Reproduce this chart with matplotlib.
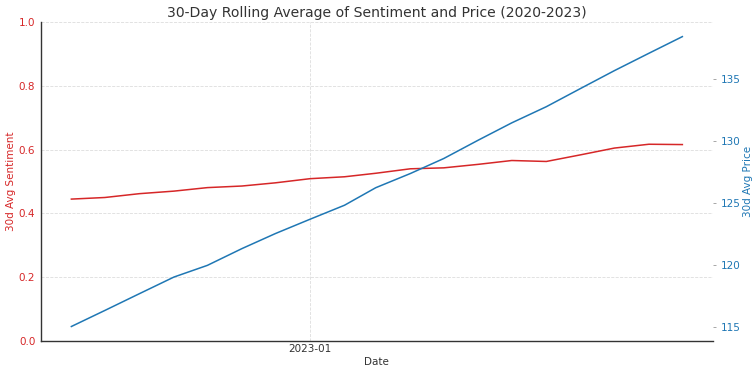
# 30-day rolling averages of sentiment and price, twin axes

import matplotlib
matplotlib.use('AGG')
import matplotlib.pyplot as plt
import matplotlib.dates as mdates
import numpy as np
import pandas as pd

#%% data
dates = pd.date_range('2022-06-01', periods=19, freq='MS')
sentiment = [0.445, 0.450, 0.462, 0.470, 0.481, 0.486, 0.496, 0.509, 0.515, 0.526,
             0.540, 0.543, 0.554, 0.566, 0.563, 0.584, 0.605, 0.617, 0.616]
price = [115.08, 116.37, 117.72, 119.06, 120.00, 121.35, 122.56, 123.71, 124.84, 126.25,
         127.39, 128.60, 130.08, 131.47, 132.77, 134.25, 135.67, 137.07, 138.41]

c_sent = '#d62728'
c_price = '#1f77b4'
grey = '#333333'

#%% make plot
fig = plt.figure(figsize=(7.56, 3.75), dpi=100)
ax1 = fig.add_axes([0.054, 0.0907, 0.889, 0.8503])
ax2 = ax1.twinx()

ax1.plot(dates, sentiment, color=c_sent, linewidth=1.1)
ax2.plot(dates, price, color=c_price, linewidth=1.1)

ax1.set_ylim(0, 1)
ax1.xaxis.set_major_locator(mdates.YearLocator())
ax1.xaxis.set_major_formatter(mdates.DateFormatter('%Y-%m'))

ax1.grid(True, linestyle='--', color='#dddddd', linewidth=0.6)
ax1.set_axisbelow(True)

for s in ['top', 'right']:
    ax1.spines[s].set_visible(False)
for s in ['top', 'right', 'left', 'bottom']:
    ax2.spines[s].set_visible(False)
ax1.spines['left'].set_color(grey)
ax1.spines['bottom'].set_color(grey)
ax1.spines['left'].set_linewidth(1.0)
ax1.spines['bottom'].set_linewidth(1.0)

ax1.tick_params(axis='y', colors=c_sent, labelsize=7.5, length=0, pad=4)
ax1.tick_params(axis='x', colors=grey, labelsize=7.5, length=0, pad=2.5)
ax2.tick_params(axis='y', colors=c_price, labelsize=7.5, length=2.5, width=0.6, pad=3)
ax2.tick_params(axis='y', color='#999999')

ax1.set_ylabel('30d Avg Sentiment', color=c_sent, fontsize=7.5, labelpad=2)
ax2.set_ylabel('30d Avg Price', color=c_price, fontsize=7.5, labelpad=2)
ax1.set_xlabel('Date', color=grey, fontsize=7.5, labelpad=2)
ax1.set_title('30-Day Rolling Average of Sentiment and Price (2020-2023)', color=grey, fontsize=10.1, pad=4)

fig.savefig('out.png', dpi=100)
plt.close()
